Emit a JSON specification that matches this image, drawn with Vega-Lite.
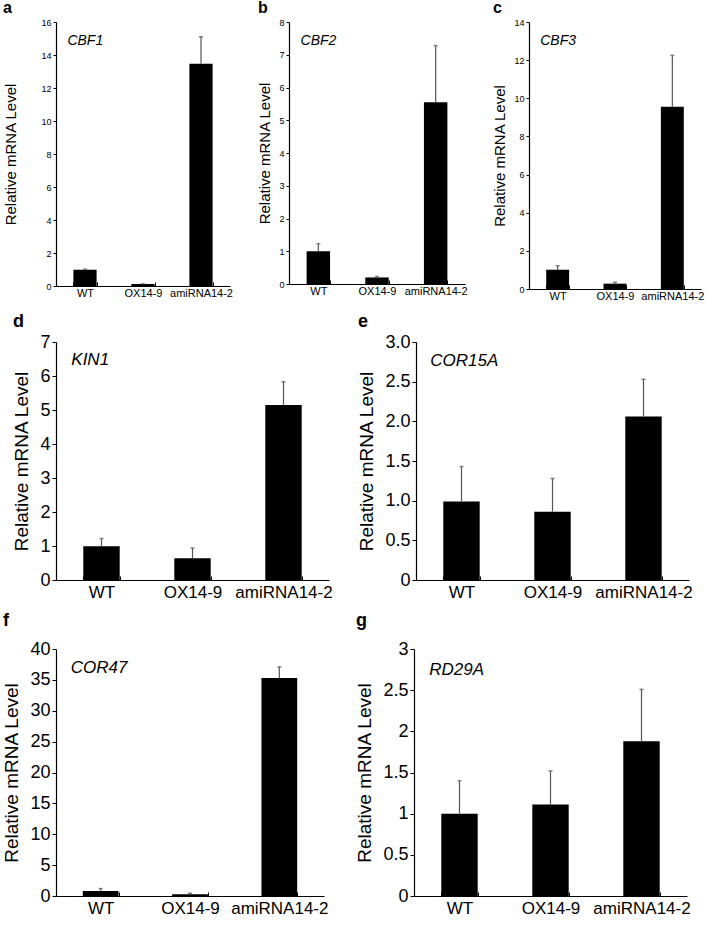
{
  "$schema": "https://vega.github.io/schema/vega-lite/v6.json",
  "padding": {"left": 2, "top": 0, "right": 5, "bottom": 3},
  "data": {
    "values": [
      {"panel": "a", "gene": "CBF1", "genotype": "WT", "value": 0.99, "upper": 1.02},
      {"panel": "a", "gene": "CBF1", "genotype": "OX14-9", "value": 0.12, "upper": 0.13},
      {"panel": "a", "gene": "CBF1", "genotype": "amiRNA14-2", "value": 13.47, "upper": 15.1},
      {"panel": "b", "gene": "CBF2", "genotype": "WT", "value": 1.0, "upper": 1.23},
      {"panel": "b", "gene": "CBF2", "genotype": "OX14-9", "value": 0.2, "upper": 0.23},
      {"panel": "b", "gene": "CBF2", "genotype": "amiRNA14-2", "value": 5.55, "upper": 7.28},
      {"panel": "c", "gene": "CBF3", "genotype": "WT", "value": 1.01, "upper": 1.22},
      {"panel": "c", "gene": "CBF3", "genotype": "OX14-9", "value": 0.28, "upper": 0.35},
      {"panel": "c", "gene": "CBF3", "genotype": "amiRNA14-2", "value": 9.55, "upper": 12.25},
      {"panel": "d", "gene": "KIN1", "genotype": "WT", "value": 0.99, "upper": 1.22},
      {"panel": "d", "gene": "KIN1", "genotype": "OX14-9", "value": 0.64, "upper": 0.94},
      {"panel": "d", "gene": "KIN1", "genotype": "amiRNA14-2", "value": 5.15, "upper": 5.83},
      {"panel": "e", "gene": "COR15A", "genotype": "WT", "value": 0.99, "upper": 1.43},
      {"panel": "e", "gene": "COR15A", "genotype": "OX14-9", "value": 0.86, "upper": 1.28},
      {"panel": "e", "gene": "COR15A", "genotype": "amiRNA14-2", "value": 2.06, "upper": 2.53},
      {"panel": "f", "gene": "COR47", "genotype": "WT", "value": 0.81, "upper": 1.2},
      {"panel": "f", "gene": "COR47", "genotype": "OX14-9", "value": 0.27, "upper": 0.45},
      {"panel": "f", "gene": "COR47", "genotype": "amiRNA14-2", "value": 35.3, "upper": 37.1},
      {"panel": "g", "gene": "RD29A", "genotype": "WT", "value": 1.0, "upper": 1.4},
      {"panel": "g", "gene": "RD29A", "genotype": "OX14-9", "value": 1.11, "upper": 1.52},
      {"panel": "g", "gene": "RD29A", "genotype": "amiRNA14-2", "value": 1.88, "upper": 2.51}
    ]
  },
  "columns": 1,
  "align": "none",
  "spacing": 12,
  "concat": [
    {
      "hconcat": [
        {
          "width": 174, "height": 264,
          "title": {"text": "a", "anchor": "start", "fontSize": 16, "fontWeight": "bold", "offset": 2},
          "transform": [{"filter": "datum.panel == 'a'"}],
          "encoding": {
            "x": {"field": "genotype", "type": "nominal", "sort": ["WT", "OX14-9", "amiRNA14-2"],
              "scale": {"paddingInner": 0.6, "paddingOuter": 0.3},
              "axis": {"title": null, "labelAngle": 0, "labelFontSize": 11, "tickBand": "extent", "tickSize": -4, "labelPadding": 5}},
            "y": {"field": "value", "type": "quantitative", "scale": {"domain": [0, 16]},
              "axis": {"title": "Relative mRNA Level", "values": [0, 2, 4, 6, 8, 10, 12, 14, 16], "labelFontSize": 9, "titleFontSize": 15, "tickSize": 3, "titlePadding": 6, "titleX": -38}}
          },
          "layer": [
            {"mark": {"type": "bar", "color": "black"}},
            {"mark": {"type": "rule", "color": "#555555", "strokeWidth": 1.2}, "encoding": {"y2": {"field": "upper"}}},
            {"mark": {"type": "tick", "color": "#555555", "size": 4, "thickness": 1.5},
              "encoding": {"y": {"field": "upper", "type": "quantitative", "scale": {"domain": [0, 16]},
                "axis": {"title": "Relative mRNA Level", "values": [0, 2, 4, 6, 8, 10, 12, 14, 16], "labelFontSize": 9, "titleFontSize": 15, "tickSize": 3, "titlePadding": 6, "titleX": -38}}}},
            {"transform": [{"filter": "datum.genotype == 'WT'"}],
              "mark": {"type": "text", "align": "left", "baseline": "top", "fontStyle": "italic", "fontSize": 14, "dx": -6, "dy": 12},
              "encoding": {"x": {"field": "genotype", "type": "nominal", "bandPosition": 0}, "y": {"datum": 16}, "text": {"field": "gene"}}}
          ]
        },
        {
          "width": 176, "height": 262,
          "title": {"text": "b", "anchor": "start", "fontSize": 16, "fontWeight": "bold", "offset": 2},
          "transform": [{"filter": "datum.panel == 'b'"}],
          "encoding": {
            "x": {"field": "genotype", "type": "nominal", "sort": ["WT", "OX14-9", "amiRNA14-2"],
              "scale": {"paddingInner": 0.6, "paddingOuter": 0.3},
              "axis": {"title": null, "labelAngle": 0, "labelFontSize": 11, "tickBand": "extent", "tickSize": -4, "labelPadding": 5}},
            "y": {"field": "value", "type": "quantitative", "scale": {"domain": [0, 8]},
              "axis": {"title": "Relative mRNA Level", "values": [0, 1, 2, 3, 4, 5, 6, 7, 8], "labelFontSize": 9, "titleFontSize": 15, "tickSize": 3, "titlePadding": 6}}
          },
          "layer": [
            {"mark": {"type": "bar", "color": "black"}},
            {"mark": {"type": "rule", "color": "#555555", "strokeWidth": 1.2}, "encoding": {"y2": {"field": "upper"}}},
            {"mark": {"type": "tick", "color": "#555555", "size": 4, "thickness": 1.5},
              "encoding": {"y": {"field": "upper", "type": "quantitative", "scale": {"domain": [0, 8]},
                "axis": {"title": "Relative mRNA Level", "values": [0, 1, 2, 3, 4, 5, 6, 7, 8], "labelFontSize": 9, "titleFontSize": 15, "tickSize": 3, "titlePadding": 6}}}},
            {"transform": [{"filter": "datum.genotype == 'WT'"}],
              "mark": {"type": "text", "align": "left", "baseline": "top", "fontStyle": "italic", "fontSize": 14, "dx": -6, "dy": 12},
              "encoding": {"x": {"field": "genotype", "type": "nominal", "bandPosition": 0}, "y": {"datum": 8}, "text": {"field": "gene"}}}
          ]
        },
        {
          "width": 172, "height": 267,
          "title": {"text": "c", "anchor": "start", "fontSize": 16, "fontWeight": "bold", "offset": 2},
          "transform": [{"filter": "datum.panel == 'c'"}],
          "encoding": {
            "x": {"field": "genotype", "type": "nominal", "sort": ["WT", "OX14-9", "amiRNA14-2"],
              "scale": {"paddingInner": 0.6, "paddingOuter": 0.3},
              "axis": {"title": null, "labelAngle": 0, "labelFontSize": 11, "tickBand": "extent", "tickSize": -4, "labelPadding": 5}},
            "y": {"field": "value", "type": "quantitative", "scale": {"domain": [0, 14]},
              "axis": {"title": "Relative mRNA Level", "values": [0, 2, 4, 6, 8, 10, 12, 14], "labelFontSize": 9, "titleFontSize": 15, "tickSize": 3, "titlePadding": 6}}
          },
          "layer": [
            {"mark": {"type": "bar", "color": "black"}},
            {"mark": {"type": "rule", "color": "#555555", "strokeWidth": 1.2}, "encoding": {"y2": {"field": "upper"}}},
            {"mark": {"type": "tick", "color": "#555555", "size": 4, "thickness": 1.5},
              "encoding": {"y": {"field": "upper", "type": "quantitative", "scale": {"domain": [0, 14]},
                "axis": {"title": "Relative mRNA Level", "values": [0, 2, 4, 6, 8, 10, 12, 14], "labelFontSize": 9, "titleFontSize": 15, "tickSize": 3, "titlePadding": 6}}}},
            {"transform": [{"filter": "datum.genotype == 'WT'"}],
              "mark": {"type": "text", "align": "left", "baseline": "top", "fontStyle": "italic", "fontSize": 14, "dx": -6, "dy": 12},
              "encoding": {"x": {"field": "genotype", "type": "nominal", "bandPosition": 0}, "y": {"datum": 14}, "text": {"field": "gene"}}}
          ]
        }
      ],
      "spacing": 24
    },
    {
      "hconcat": [
        {
          "width": 273, "height": 238,
          "title": {"text": "d", "anchor": "start", "fontSize": 18, "fontWeight": "bold", "offset": 2},
          "transform": [{"filter": "datum.panel == 'd'"}],
          "encoding": {
            "x": {"field": "genotype", "type": "nominal", "sort": ["WT", "OX14-9", "amiRNA14-2"],
              "scale": {"paddingInner": 0.6, "paddingOuter": 0.3},
              "axis": {"title": null, "labelAngle": 0, "labelFontSize": 17, "tickBand": "extent", "tickSize": -4, "labelPadding": 8}},
            "y": {"field": "value", "type": "quantitative", "scale": {"domain": [0, 7]},
              "axis": {"title": "Relative mRNA Level", "values": [0, 1, 2, 3, 4, 5, 6, 7], "labelFontSize": 18, "titleFontSize": 19, "tickSize": 4, "titlePadding": 8}}
          },
          "layer": [
            {"mark": {"type": "bar", "color": "black"}},
            {"mark": {"type": "rule", "color": "#555555", "strokeWidth": 1.2}, "encoding": {"y2": {"field": "upper"}}},
            {"mark": {"type": "tick", "color": "#555555", "size": 4, "thickness": 1.5},
              "encoding": {"y": {"field": "upper", "type": "quantitative", "scale": {"domain": [0, 7]},
                "axis": {"title": "Relative mRNA Level", "values": [0, 1, 2, 3, 4, 5, 6, 7], "labelFontSize": 18, "titleFontSize": 19, "tickSize": 4, "titlePadding": 8}}}},
            {"transform": [{"filter": "datum.genotype == 'WT'"}],
              "mark": {"type": "text", "align": "left", "baseline": "top", "fontStyle": "italic", "fontSize": 17, "dx": -12, "dy": 10},
              "encoding": {"x": {"field": "genotype", "type": "nominal", "bandPosition": 0}, "y": {"datum": 7}, "text": {"field": "gene"}}}
          ]
        },
        {
          "width": 273, "height": 238,
          "title": {"text": "e", "anchor": "start", "fontSize": 18, "fontWeight": "bold", "offset": 2},
          "transform": [{"filter": "datum.panel == 'e'"}],
          "encoding": {
            "x": {"field": "genotype", "type": "nominal", "sort": ["WT", "OX14-9", "amiRNA14-2"],
              "scale": {"paddingInner": 0.6, "paddingOuter": 0.3},
              "axis": {"title": null, "labelAngle": 0, "labelFontSize": 17, "tickBand": "extent", "tickSize": -4, "labelPadding": 8}},
            "y": {"field": "value", "type": "quantitative", "scale": {"domain": [0, 3]},
              "axis": {"title": "Relative mRNA Level", "values": [0, 0.5, 1, 1.5, 2, 2.5, 3], "labelExpr": "datum.value == 0 ? '0' : format(datum.value, '.1f')", "labelFontSize": 18, "titleFontSize": 19, "tickSize": 4, "titlePadding": 8}}
          },
          "layer": [
            {"mark": {"type": "bar", "color": "black"}},
            {"mark": {"type": "rule", "color": "#555555", "strokeWidth": 1.2}, "encoding": {"y2": {"field": "upper"}}},
            {"mark": {"type": "tick", "color": "#555555", "size": 4, "thickness": 1.5},
              "encoding": {"y": {"field": "upper", "type": "quantitative", "scale": {"domain": [0, 3]},
                "axis": {"title": "Relative mRNA Level", "values": [0, 0.5, 1, 1.5, 2, 2.5, 3], "labelExpr": "datum.value == 0 ? '0' : format(datum.value, '.1f')", "labelFontSize": 18, "titleFontSize": 19, "tickSize": 4, "titlePadding": 8}}}},
            {"transform": [{"filter": "datum.genotype == 'WT'"}],
              "mark": {"type": "text", "align": "left", "baseline": "top", "fontStyle": "italic", "fontSize": 17, "dx": -13, "dy": 11},
              "encoding": {"x": {"field": "genotype", "type": "nominal", "bandPosition": 0}, "y": {"datum": 3}, "text": {"field": "gene"}}}
          ]
        }
      ],
      "spacing": 24
    },
    {
      "hconcat": [
        {
          "width": 268, "height": 247,
          "title": {"text": "f", "anchor": "start", "fontSize": 18, "fontWeight": "bold", "offset": 10},
          "transform": [{"filter": "datum.panel == 'f'"}],
          "encoding": {
            "x": {"field": "genotype", "type": "nominal", "sort": ["WT", "OX14-9", "amiRNA14-2"],
              "scale": {"paddingInner": 0.6, "paddingOuter": 0.3},
              "axis": {"title": null, "labelAngle": 0, "labelFontSize": 17, "tickBand": "extent", "tickSize": -4, "labelPadding": 8}},
            "y": {"field": "value", "type": "quantitative", "scale": {"domain": [0, 40]},
              "axis": {"title": "Relative mRNA Level", "values": [0, 5, 10, 15, 20, 25, 30, 35, 40], "labelFontSize": 18, "titleFontSize": 19, "tickSize": 4, "titlePadding": 8}}
          },
          "layer": [
            {"mark": {"type": "bar", "color": "black"}},
            {"mark": {"type": "rule", "color": "#555555", "strokeWidth": 1.2}, "encoding": {"y2": {"field": "upper"}}},
            {"mark": {"type": "tick", "color": "#555555", "size": 4, "thickness": 1.5},
              "encoding": {"y": {"field": "upper", "type": "quantitative", "scale": {"domain": [0, 40]},
                "axis": {"title": "Relative mRNA Level", "values": [0, 5, 10, 15, 20, 25, 30, 35, 40], "labelFontSize": 18, "titleFontSize": 19, "tickSize": 4, "titlePadding": 8}}}},
            {"transform": [{"filter": "datum.genotype == 'WT'"}],
              "mark": {"type": "text", "align": "left", "baseline": "top", "fontStyle": "italic", "fontSize": 17, "dx": -12, "dy": 11},
              "encoding": {"x": {"field": "genotype", "type": "nominal", "bandPosition": 0}, "y": {"datum": 40}, "text": {"field": "gene"}}}
          ]
        },
        {
          "width": 273, "height": 247,
          "title": {"text": "g", "anchor": "start", "fontSize": 18, "fontWeight": "bold", "offset": 10},
          "transform": [{"filter": "datum.panel == 'g'"}],
          "encoding": {
            "x": {"field": "genotype", "type": "nominal", "sort": ["WT", "OX14-9", "amiRNA14-2"],
              "scale": {"paddingInner": 0.6, "paddingOuter": 0.3},
              "axis": {"title": null, "labelAngle": 0, "labelFontSize": 17, "tickBand": "extent", "tickSize": -4, "labelPadding": 8}},
            "y": {"field": "value", "type": "quantitative", "scale": {"domain": [0, 3]},
              "axis": {"title": "Relative mRNA Level", "values": [0, 0.5, 1, 1.5, 2, 2.5, 3], "format": "~g", "labelFontSize": 18, "titleFontSize": 19, "tickSize": 4, "titlePadding": 8}}
          },
          "layer": [
            {"mark": {"type": "bar", "color": "black"}},
            {"mark": {"type": "rule", "color": "#555555", "strokeWidth": 1.2}, "encoding": {"y2": {"field": "upper"}}},
            {"mark": {"type": "tick", "color": "#555555", "size": 4, "thickness": 1.5},
              "encoding": {"y": {"field": "upper", "type": "quantitative", "scale": {"domain": [0, 3]},
                "axis": {"title": "Relative mRNA Level", "values": [0, 0.5, 1, 1.5, 2, 2.5, 3], "format": "~g", "labelFontSize": 18, "titleFontSize": 19, "tickSize": 4, "titlePadding": 8}}}},
            {"transform": [{"filter": "datum.genotype == 'WT'"}],
              "mark": {"type": "text", "align": "left", "baseline": "top", "fontStyle": "italic", "fontSize": 17, "dx": -12, "dy": 13},
              "encoding": {"x": {"field": "genotype", "type": "nominal", "bandPosition": 0}, "y": {"datum": 3}, "text": {"field": "gene"}}}
          ]
        }
      ],
      "spacing": 27
    }
  ],
  "config": {
    "font": "Liberation Sans",
    "view": {"stroke": null},
    "axis": {"grid": false, "domainColor": "black", "tickColor": "black", "labelColor": "black", "titleColor": "black", "titleFontWeight": "normal", "domainWidth": 1.2}
  }
}
